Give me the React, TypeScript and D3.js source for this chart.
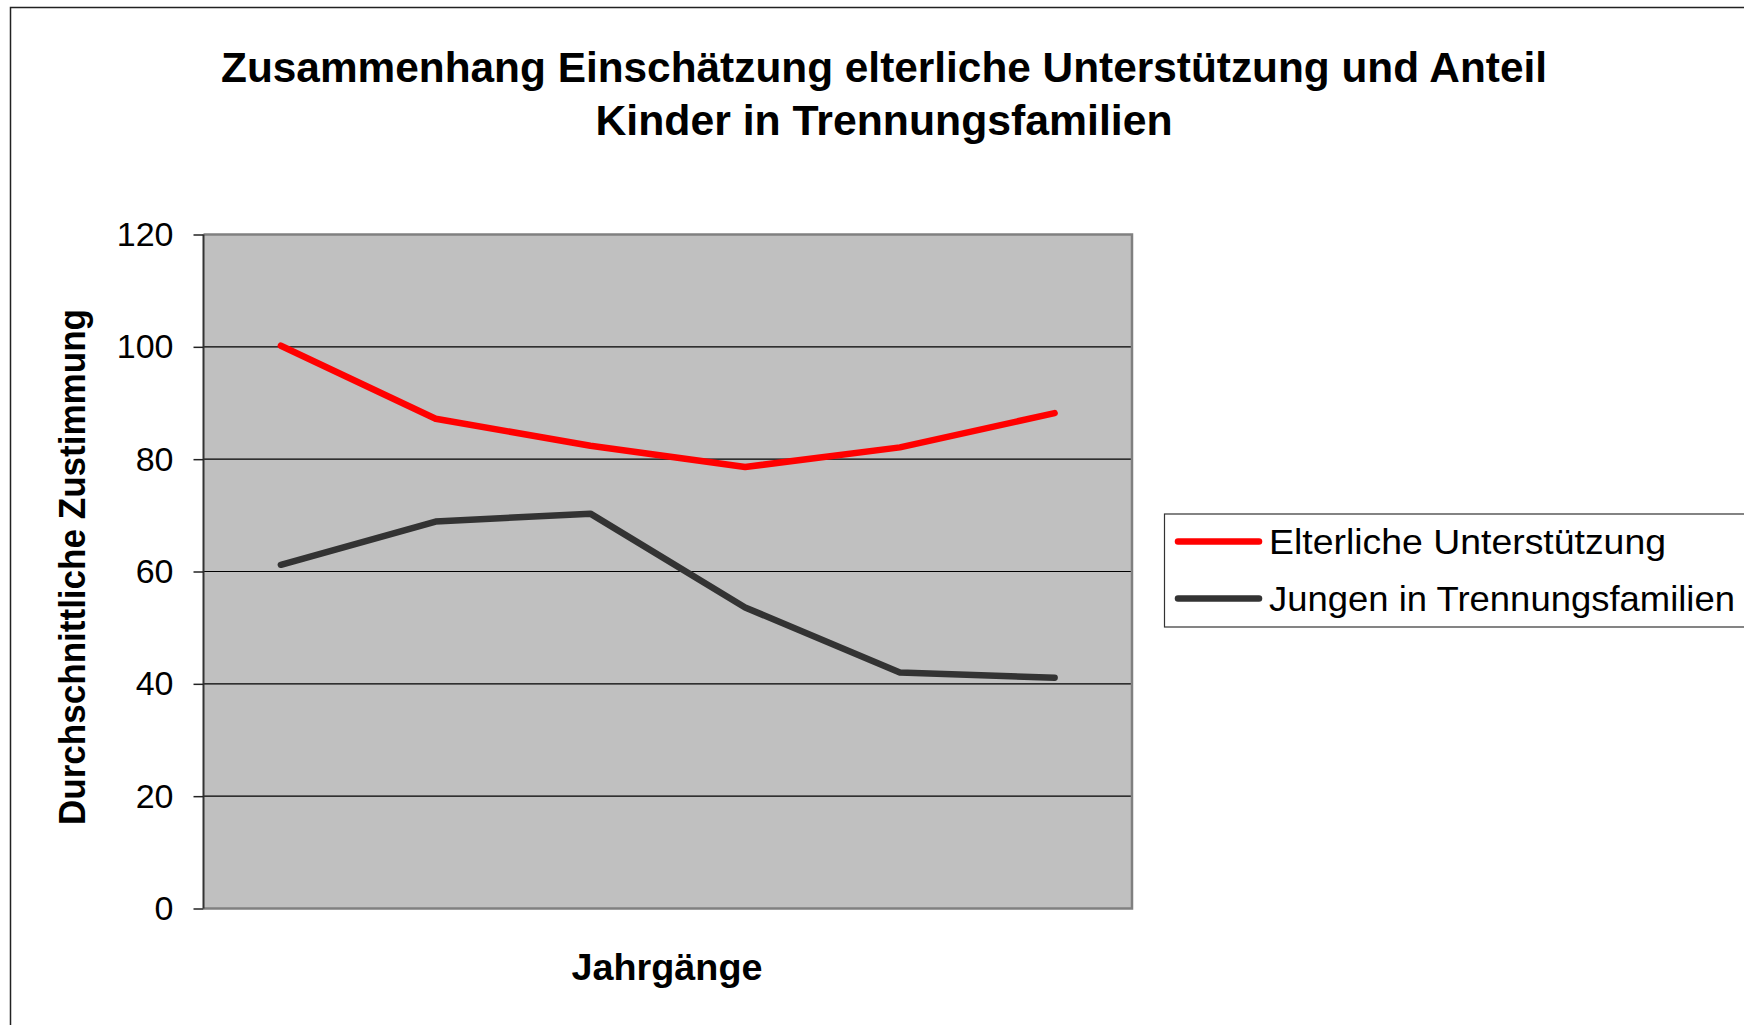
import * as d3 from "d3";
import { useRef, useEffect } from "react";

const jahrgaenge = ["J1", "J2", "J3", "J4", "J5", "J6"];
const elterlicheUnterstuetzung = [100.2, 87.2, 82.4, 78.6, 82.1, 88.2];
const jungenTrennung = [61.2, 68.9, 70.3, 53.6, 42.0, 41.1];
const yTicks = [0, 20, 40, 60, 80, 100, 120];

const series = [
  { name: "Elterliche Unterstützung", values: elterlicheUnterstuetzung, color: "#ff0000" },
  { name: "Jungen in Trennungsfamilien", values: jungenTrennung, color: "#333333" },
];

export default function App() {
  const width = 1744;
  const height = 1025;
  const plotLeft = 203.5;
  const plotRight = 1132;
  const plotTop = 234.5;
  const plotBottom = 908.5;
  const font = "'Liberation Sans', Arial, sans-serif";

  const gy = useRef<SVGGElement>(null);

  const x = d3
    .scalePoint<string>()
    .domain(jahrgaenge)
    .range([plotLeft, plotRight])
    .padding(0.5);

  const y = d3.scaleLinear().domain([0, 120]).range([plotBottom, plotTop]);

  const line = d3
    .line<number>()
    .x((_, i) => x(jahrgaenge[i]) as number)
    .y((d) => y(d));

  useEffect(() => {
    const g = d3.select(gy.current);
    g.call(d3.axisLeft(y).tickValues(yTicks).tickSize(10).tickPadding(20));
    g.select(".domain").remove();
    g.selectAll(".tick line").attr("stroke", "#222").attr("stroke-width", 1.5);
    g.selectAll(".tick text")
      .attr("font-family", font)
      .attr("font-size", 34)
      .attr("fill", "#000");
  }, [y]);

  return (
    <svg
      width={width}
      height={height}
      style={{ position: "absolute", left: 0, top: 0, background: "#fff" }}
    >
      {/* chart frame, runs past the right and bottom edge */}
      <rect x={10.5} y={7.5} width={1800} height={1100} fill="#fff" stroke="#222" strokeWidth={1.5} />

      <text x={884} y={81.5} textAnchor="middle" fontFamily={font} fontWeight="bold" fontSize={42}
        textLength={1326} lengthAdjust="spacingAndGlyphs">
        Zusammenhang Einschätzung elterliche Unterstützung und Anteil
      </text>
      <text x={884} y={135} textAnchor="middle" fontFamily={font} fontWeight="bold" fontSize={42}
        textLength={577} lengthAdjust="spacingAndGlyphs">
        Kinder in Trennungsfamilien
      </text>

      <rect x={plotLeft} y={plotTop} width={plotRight - plotLeft} height={plotBottom - plotTop} fill="#c0c0c0" />
      <g>
        {yTicks.filter((t) => t > 0 && t < 120).map((t) => (
          <line key={t} x1={plotLeft} x2={plotRight} y1={y(t)} y2={y(t)} stroke="#000" strokeWidth={1.2} />
        ))}
      </g>
      <path
        d={`M${plotLeft},${plotTop}H${plotRight}V${plotBottom}H${plotLeft}`}
        fill="none"
        stroke="#808080"
        strokeWidth={2.5}
      />
      <line x1={plotLeft} x2={plotLeft} y1={plotTop} y2={plotBottom} stroke="#333" strokeWidth={2} />

      <g ref={gy} transform={`translate(${plotLeft},0)`} />

      {series.map((s) => (
        <path key={s.name} d={line(s.values) ?? ""} fill="none" stroke={s.color} strokeWidth={6.5}
          strokeLinecap="round" strokeLinejoin="round" />
      ))}

      <text x={667} y={967} dy="0.35em" textAnchor="middle" fontFamily={font} fontWeight="bold" fontSize={37}
        textLength={191} lengthAdjust="spacingAndGlyphs">
        Jahrgänge
      </text>
      <text transform="translate(72,567) rotate(-90)" dy="0.35em" textAnchor="middle" fontFamily={font}
        fontWeight="bold" fontSize={37} textLength={516} lengthAdjust="spacingAndGlyphs">
        Durchschnittliche Zustimmung
      </text>

      <g>
        <rect x={1164.5} y={514} width={700} height={113} fill="#fff" stroke="#333" strokeWidth={1.2} />
        {series.map((s, i) => {
          const cy = 541.5 + i * 57;
          return (
            <g key={s.name}>
              <line x1={1178} x2={1259} y1={cy} y2={cy} stroke={s.color} strokeWidth={6.5} strokeLinecap="round" />
              <text x={1269} y={cy} dy="0.35em" fontFamily={font} fontSize={35}
                textLength={i === 0 ? 397 : 466} lengthAdjust="spacingAndGlyphs">
                {s.name}
              </text>
            </g>
          );
        })}
      </g>
    </svg>
  );
}
